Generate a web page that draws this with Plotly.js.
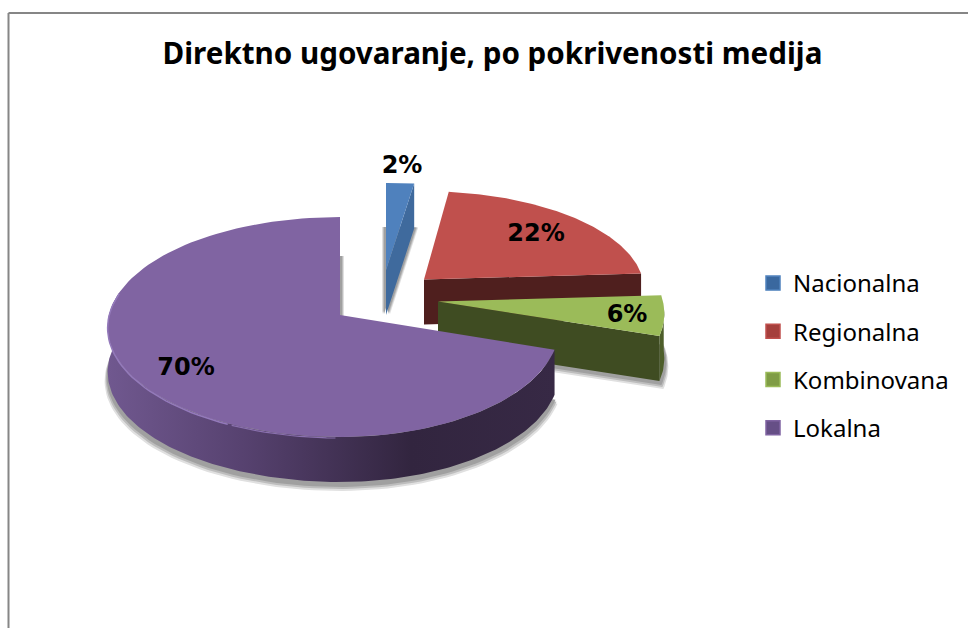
<!DOCTYPE html>
<html>
<head>
<meta charset="utf-8">
<script src="https://cdn.plot.ly/plotly-3.0.1.min.js"></script>
<style>html,body{margin:0;padding:0;background:#fff}#chart{width:968px;height:628px}</style>
</head>
<body>
<div id="chart"></div>
<script>
// Data
var categories = ['Nacionalna', 'Regionalna', 'Kombinovana', 'Lokalna'];
var shares = [2, 22, 6, 70];
var chartTitle = 'Direktno ugovaranje, po pokrivenosti medija';

// Style
var faceColors = ['#4f81bd', '#c0504d', '#9bbb59', '#8064a2'];
var cutColors = ['#3f6a9d', '#4f1f1e', '#3f4c22', '#33263f'];
var legendColors = ['#3a689f', '#a53f3c', '#7f9c45', '#664f86'];

// Exploded-pie projection (one apex per slice), in axis units
var apexX = [386, 424, 438, 340];
var apexY = [270, 279.5, 301.5, 315];
var radiusLeft = [249, 219, 225, 231];
var radiusRight = [249, 219, 225, 218];
var radiusDepth = [96.5, 98, 108, 108.7];
var perspective = 0.109;
var wallDepth = 45;
var labelX = [402, 536, 627, 186];
var labelY = [167, 235, 316, 369];

function project(i, deg, o) {
  o = o || {};
  var t = deg * Math.PI / 180, u = Math.sin(t), v = Math.cos(t);
  var s = 1 / (1 + perspective * v);
  var R = (u < 0 ? radiusLeft[i] : radiusRight[i]) + (o.dR || 0);
  return [apexX[i] + (o.dx || 0) + R * u * s,
          apexY[i] + (o.dy || 0) - radiusDepth[i] * v * s];
}
function sectorPath(i, a, b, o) {
  o = o || {};
  var xs = [apexX[i] + (o.dx || 0)], ys = [apexY[i] + (o.dy || 0)];
  for (var d = a; d <= b + 1e-6; d += Math.max((b - a) / 120, 0.2)) {
    var p = project(i, d, o);
    xs.push(p[0]); ys.push(p[1]);
  }
  xs.push(xs[0]); ys.push(ys[0]);
  return {x: xs, y: ys};
}
function poly(path, color, extra) {
  var t = {type: 'scatter', mode: 'lines', x: path.x, y: path.y, fill: 'toself',
           fillcolor: color, line: {width: 0, color: color}, showlegend: false, hoverinfo: 'skip'};
  for (var k in (extra || {})) t[k] = extra[k];
  return t;
}
function outerWall(i, a, b) {
  var xs = [], ys = [], d;
  for (d = a; d <= b + 1e-6; d += 1) { var p = project(i, d); xs.push(p[0]); ys.push(p[1]); }
  for (d = b; d >= a - 1e-6; d -= 1) { var q = project(i, d); xs.push(q[0]); ys.push(q[1] + wallDepth); }
  xs.push(xs[0]); ys.push(ys[0]);
  return {x: xs, y: ys};
}
function cutWall(i, deg) {
  var p = project(i, deg);
  return {x: [apexX[i], p[0], p[0], apexX[i], apexX[i]],
          y: [apexY[i], p[1], p[1] + wallDepth, apexY[i] + wallDepth, apexY[i]]};
}
function rim(a, b, color, width) {
  var xs = [], ys = [];
  for (var d = a; d >= b; d -= 2) { var r = project(3, d); xs.push(r[0]); ys.push(r[1] + 1); }
  return {type: 'scatter', mode: 'lines', x: xs, y: ys,
          line: {color: color, width: width}, showlegend: false, hoverinfo: 'skip'};
}

// Slice angles from the shares
var total = shares.reduce(function (a, b) { return a + b; }, 0);
var starts = [], ends = [], run = 0;
shares.forEach(function (v) { starts.push(run); run += v / total * 360; ends.push(run); });

var traces = [];
// soft shadows
[['#e0e0e0', 9, 3], ['#bdbdbd', 7, 2], ['#a0a0a0', 5, 1]].forEach(function (s) {
  traces.push(poly(sectorPath(3, starts[3], ends[3], {dy: wallDepth + s[1], dR: s[2], dx: 0}), s[0]));
  traces.push(poly(sectorPath(2, starts[2], ends[2], {dy: wallDepth + s[1] - 1, dR: s[2] + 1}), s[0]));
  traces.push(poly(sectorPath(0, starts[0], ends[0], {dy: wallDepth - 1, dx: s[2] + 1}), s[0]));
  traces.push(poly(sectorPath(0, starts[0], ends[0], {dy: wallDepth - 1, dx: -s[2] - 1}), s[0]));
  traces.push(poly(sectorPath(3, 340, ends[3], {dy: wallDepth - 6, dx: s[2] + 1}), s[0]));
});

// Nacionalna
traces.push(poly(cutWall(0, ends[0]), cutColors[0]));
traces.push(poly(sectorPath(0, starts[0], ends[0]), faceColors[0]));
// Regionalna
traces.push(poly(cutWall(1, ends[1]), cutColors[1]));
traces.push(poly(sectorPath(1, starts[1], ends[1]), faceColors[1]));
// Kombinovana
traces.push(poly(outerWall(2, 92, ends[2]), '#4d5e2a'));
traces.push(poly(cutWall(2, ends[2]), cutColors[2]));
traces.push(poly(sectorPath(2, starts[2], ends[2]), faceColors[2]));
// Lokalna
traces.push(poly(outerWall(3, starts[3], 282), cutColors[3], {
  fillgradient: {type: 'horizontal', colorscale: [[0, '#70588f'], [0.3, '#574270'], [0.68, '#32253f'], [1, '#372945']]}
}));
traces.push(poly(sectorPath(3, starts[3], ends[3]), faceColors[3]));
// bevel highlight along the front rim
traces.push(rim(282, 205, '#947abb', 1.5));
traces.push(rim(205, 180, '#8a70ae', 1.2));

// percentage labels
traces.push({type: 'scatter', mode: 'text', x: labelX, y: labelY,
  text: shares.map(function (v) { return v + '%'; }), textposition: 'middle center',
  textfont: {family: 'DejaVu Sans', size: 24, color: '#000', weight: 700},
  showlegend: false, hoverinfo: 'skip'});

// legend entries
categories.forEach(function (c, i) {
  traces.push({type: 'scatter', mode: 'markers', x: [null], y: [null], name: c, legendgroup: c,
    marker: {symbol: 'square', size: 14, color: legendColors[i], line: {color: faceColors[i], width: 1.5}},
    hoverinfo: 'skip'});
});

var layout = {
  width: 968, height: 628, autosize: false,
  margin: {l: 0, r: 0, t: 0, b: 0},
  paper_bgcolor: '#fff', plot_bgcolor: 'rgba(0,0,0,0)',
  title: {text: '<b>' + chartTitle + '</b>', x: 492.5 / 968, xanchor: 'center', y: 1 - 54 / 628, yanchor: 'middle',
          font: {family: 'Noto Sans', size: 29.6, color: '#000'}},
  xaxis: {range: [0, 968], visible: false, fixedrange: true},
  yaxis: {range: [628, 0], visible: false, fixedrange: true},
  showlegend: true,
  legend: {x: 753 / 968, xanchor: 'left', y: 1 - 261 / 628, yanchor: 'top', tracegroupgap: 14,
           bgcolor: 'rgba(0,0,0,0)', font: {family: 'Noto Sans', size: 24, color: '#000'}, itemclick: false, itemdoubleclick: false},
  shapes: [
    {type: 'line', xref: 'paper', yref: 'paper', x0: 8.5 / 968, x1: 1, y0: 1 - 13 / 628, y1: 1 - 13 / 628, line: {color: '#868686', width: 2}},
    {type: 'line', xref: 'paper', yref: 'paper', x0: 8.5 / 968, x1: 8.5 / 968, y0: 0, y1: 1 - 13 / 628, line: {color: '#868686', width: 2}}
  ],
  hovermode: false
};
Plotly.newPlot('chart', traces, layout, {displayModeBar: false, staticPlot: true});
</script>
</body>
</html>
